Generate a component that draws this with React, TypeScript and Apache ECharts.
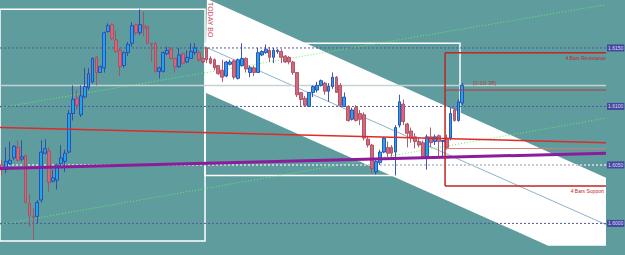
import React, { useEffect, useRef } from "react";
import * as echarts from "echarts";

// ---- candle data, oldest first ----
const opens = [
  1.6050, 1.6046, 1.6051, 1.6056, 1.6065, 1.6055, 1.6058, 1.6017, 1.6006, 1.6006,
  1.6020, 1.6060, 1.6062, 1.6036, 1.6037, 1.6051, 1.6053, 1.6061, 1.6094, 1.6107,
  1.6093, 1.6108, 1.6116, 1.6121, 1.6142, 1.6129, 1.6133, 1.6164, 1.6170, 1.6157,
  1.6148, 1.6135, 1.6146, 1.6154, 1.6170, 1.6163, 1.6169, 1.6168, 1.6154, 1.6154,
  1.6130, 1.6130, 1.6145, 1.6149, 1.6141, 1.6134, 1.6145, 1.6138, 1.6141, 1.6146,
  1.6146, 1.6141, 1.6150, 1.6141, 1.6140, 1.6135, 1.6131, 1.6126, 1.6136, 1.6139,
  1.6124, 1.6135, 1.6141, 1.6129, 1.6133, 1.6129, 1.6144, 1.6146, 1.6148, 1.6142,
  1.6147, 1.6147, 1.6143, 1.6142, 1.6138, 1.6129, 1.6112, 1.6107, 1.6100, 1.6112,
  1.6114, 1.6118, 1.6120, 1.6113, 1.6117, 1.6125, 1.6118, 1.6100, 1.6100, 1.6089,
  1.6099, 1.6094, 1.6093, 1.6072, 1.6067, 1.6044, 1.6052, 1.6061, 1.6065, 1.6065,
  1.6061, 1.6084, 1.6102, 1.6085, 1.6079, 1.6074, 1.6070, 1.6069, 1.6057, 1.6074,
  1.6070, 1.6075, 1.6070, 1.6073, 1.6073, 1.6097, 1.6088, 1.6103,
];
const closes = [
  1.6046, 1.6053, 1.6054, 1.6066, 1.6054, 1.6057, 1.6018, 1.6007, 1.6005, 1.6018,
  1.6061, 1.6064, 1.6035, 1.6039, 1.6050, 1.6056, 1.6060, 1.6094, 1.6106, 1.6101,
  1.6109, 1.6117, 1.6128, 1.6141, 1.6129, 1.6134, 1.6163, 1.6169, 1.6158, 1.6147,
  1.6134, 1.6146, 1.6153, 1.6169, 1.6163, 1.6170, 1.6167, 1.6154, 1.6153, 1.6130,
  1.6133, 1.6146, 1.6148, 1.6141, 1.6134, 1.6144, 1.6137, 1.6142, 1.6147, 1.6150,
  1.6140, 1.6138, 1.6140, 1.6137, 1.6133, 1.6128, 1.6125, 1.6138, 1.6138, 1.6125,
  1.6140, 1.6141, 1.6132, 1.6133, 1.6129, 1.6146, 1.6147, 1.6149, 1.6142, 1.6148,
  1.6148, 1.6142, 1.6138, 1.6138, 1.6129, 1.6110, 1.6106, 1.6101, 1.6112, 1.6117,
  1.6118, 1.6122, 1.6113, 1.6117, 1.6125, 1.6112, 1.6101, 1.6108, 1.6088, 1.6097,
  1.6088, 1.6089, 1.6073, 1.6067, 1.6047, 1.6053, 1.6061, 1.6073, 1.6060, 1.6060,
  1.6082, 1.6104, 1.6087, 1.6077, 1.6073, 1.6070, 1.6067, 1.6057, 1.6074, 1.6069,
  1.6074, 1.6070, 1.6071, 1.6065, 1.6094, 1.6088, 1.6104, 1.6118,
];
const lows = [
  1.6041, 1.6043, 1.6050, 1.6054, 1.6053, 1.6053, 1.6017, 1.5997, 1.5986, 1.6000,
  1.6018, 1.6059, 1.6027, 1.6035, 1.6029, 1.6048, 1.6044, 1.6060, 1.6088, 1.6097,
  1.6091, 1.6107, 1.6114, 1.6120, 1.6118, 1.6129, 1.6129, 1.6163, 1.6157, 1.6146,
  1.6126, 1.6133, 1.6143, 1.6151, 1.6161, 1.6161, 1.6160, 1.6153, 1.6138, 1.6129,
  1.6124, 1.6129, 1.6144, 1.6140, 1.6129, 1.6133, 1.6136, 1.6137, 1.6141, 1.6144,
  1.6138, 1.6137, 1.6137, 1.6136, 1.6131, 1.6127, 1.6121, 1.6125, 1.6135, 1.6123,
  1.6123, 1.6134, 1.6129, 1.6125, 1.6126, 1.6129, 1.6143, 1.6145, 1.6138, 1.6137,
  1.6145, 1.6137, 1.6137, 1.6136, 1.6127, 1.6108, 1.6100, 1.6100, 1.6100, 1.6108,
  1.6112, 1.6117, 1.6110, 1.6104, 1.6115, 1.6112, 1.6100, 1.6100, 1.6087, 1.6088,
  1.6087, 1.6084, 1.6071, 1.6065, 1.6043, 1.6042, 1.6050, 1.6060, 1.6057, 1.6057,
  1.6041, 1.6082, 1.6084, 1.6065, 1.6069, 1.6064, 1.6065, 1.6056, 1.6046, 1.6065,
  1.6067, 1.6057, 1.6057, 1.6063, 1.6071, 1.6087, 1.6087, 1.6101,
];
const highs = [
  1.6054, 1.6065, 1.6070, 1.6067, 1.6071, 1.6071, 1.6059, 1.6025, 1.6013, 1.6020,
  1.6071, 1.6072, 1.6065, 1.6046, 1.6051, 1.6067, 1.6063, 1.6097, 1.6118, 1.6114,
  1.6118, 1.6133, 1.6133, 1.6142, 1.6143, 1.6135, 1.6164, 1.6171, 1.6171, 1.6165,
  1.6150, 1.6147, 1.6155, 1.6172, 1.6171, 1.6183, 1.6181, 1.6169, 1.6154, 1.6155,
  1.6134, 1.6147, 1.6151, 1.6151, 1.6141, 1.6150, 1.6146, 1.6148, 1.6154, 1.6154,
  1.6148, 1.6142, 1.6151, 1.6143, 1.6141, 1.6135, 1.6140, 1.6139, 1.6140, 1.6140,
  1.6141, 1.6154, 1.6142, 1.6135, 1.6135, 1.6150, 1.6148, 1.6153, 1.6151, 1.6150,
  1.6149, 1.6149, 1.6144, 1.6143, 1.6139, 1.6129, 1.6112, 1.6109, 1.6112, 1.6118,
  1.6121, 1.6123, 1.6121, 1.6120, 1.6129, 1.6126, 1.6120, 1.6112, 1.6101, 1.6099,
  1.6101, 1.6097, 1.6095, 1.6074, 1.6068, 1.6054, 1.6063, 1.6074, 1.6070, 1.6067,
  1.6084, 1.6110, 1.6106, 1.6086, 1.6082, 1.6077, 1.6073, 1.6071, 1.6076, 1.6082,
  1.6076, 1.6076, 1.6071, 1.6076, 1.6099, 1.6099, 1.6106, 1.6120,
];

// ---- price scale / levels ----
const slotCount = 154; // visible bar slots on the chart
const priceMin = 1.5973;
const priceMax = 1.6191;
const levelPrices = [1.615, 1.61, 1.605, 1.6];
const levelLabels = ["1.6150", "1.6100", "1.6050", "1.6000"];
const bidPrice = 1.6118;

// ---- drawn objects, in [bar index, price] ----
const yesterdayBox = [[-0.5, 1.6183], [51.6, 1.5985]];
const todayBox = [[51.6, 1.6154], [116.4, 1.6041]];
const channelPolygon = [
  [52.1, 1.6192], [153.5, 1.6039], [153.5, 1.5981], [138.8, 1.5981], [51.6, 1.6112],
];
const channelMid = [[51.6, 1.6151], [153.5, 1.5999]];
const redTrend = [[-0.5, 1.6082], [153.5, 1.6069]];
const purpleTrend = [[-0.5, 1.6047], [153.5, 1.606]];
const greenUpper = [[-0.5, 1.6099], [153.5, 1.6187]];
const greenLower = [[-0.5, 1.5999], [153.5, 1.609]];
const barsStart = 112.6;
const barsEnd = 153.5;
const resistancePrice = 1.6146;
const supportPrice = 1.6032;
const lastClosePrice = 1.6114;
const pivotPrice = 1.6064;

export default function App() {
  const ref = useRef<HTMLDivElement>(null);
  useEffect(() => {
    document.body.style.margin = "0";
    const chart = echarts.init(ref.current as HTMLDivElement, null, { renderer: "svg" });
    const categories = Array.from({ length: slotCount }, (_, i) => String(i));
    const left = -0.5;
    const right = slotCount - 0.5;
    const seg = (pts: number[][], color: string, width: number, type: any = "solid", z = 6, extra: any = {}) => ({
      type: "line",
      xAxisIndex: 1,
      yAxisIndex: 0,
      data: pts,
      symbol: "none",
      silent: true,
      z,
      lineStyle: { color, width, type },
      ...extra,
    });
    const boxSeries = (box: number[][]) => ({
      type: "custom",
      xAxisIndex: 1,
      yAxisIndex: 0,
      data: [[0, 1.61]],
      silent: true,
      z: 2,
      renderItem: (_p: any, api: any) => {
        const a = api.coord(box[0]);
        const b = api.coord(box[1]);
        return {
          type: "rect",
          shape: { x: a[0], y: a[1], width: b[0] - a[0], height: b[1] - a[1] },
          style: { fill: "none", stroke: "#ffffff", lineWidth: 1.5 },
        };
      },
    });
    const font = (s: number) => `${s}px "Liberation Sans", Arial, sans-serif`;
    const levelSeries = levelPrices.map((p, i) =>
      seg(
        [[left, p], [right, p]],
        i === 2 ? "#c4cad6" : "#55559a",
        i === 2 ? 2 : 1,
        [2, 2],
        3,
        {
          endLabel: {
            show: true,
            formatter: levelLabels[i],
            distance: 1,
            fontSize: 5,
            fontFamily: "Liberation Sans",
            color: "#dcdcff",
            backgroundColor: "#46469c",
            padding: [1, 1, 1, 1],
          },
        }
      )
    );
    chart.setOption({
      animation: false,
      backgroundColor: "#5f9c9e",
      grid: { left: 0, right: 19, top: 0, bottom: 0 },
      xAxis: [
        { type: "category", data: categories, boundaryGap: true, show: false },
        { type: "value", min: left, max: right, show: false },
      ],
      yAxis: { type: "value", min: priceMin, max: priceMax, show: false },
      series: [
        {
          type: "custom",
          xAxisIndex: 1,
          yAxisIndex: 0,
          data: [[0, 1.61]],
          silent: true,
          z: 1,
          renderItem: (_p: any, api: any) => ({
            type: "polygon",
            shape: { points: channelPolygon.map((p) => api.coord(p)) },
            style: { fill: "#ffffff" },
          }),
        },
        boxSeries(yesterdayBox),
        boxSeries(todayBox),
        seg(channelMid, "#8fb3c8", 1, "solid", 2),
        seg(greenUpper, "#62f062", 1, [1, 2], 2),
        seg(greenLower, "#62f062", 1, [1, 2], 2),
        ...levelSeries,
        seg([[left, bidPrice], [right, bidPrice]], "#c8d2d2", 1.5, "solid", 3),
        {
          type: "candlestick",
          xAxisIndex: 0,
          yAxisIndex: 0,
          data: opens.map((o, i) => [o, closes[i], lows[i], highs[i]]),
          barWidth: 3.3,
          z: 4,
          silent: true,
          itemStyle: {
            color: "#1ea6ec",
            color0: "#d8667a",
            borderColor: "#2a46b0",
            borderColor0: "#a84e62",
            borderWidth: 0.9,
          },
        },
        seg(redTrend, "#e02a2a", 1.5),
        seg(purpleTrend, "#8c1c9c", 3),
        seg([[barsStart, pivotPrice], [barsEnd, pivotPrice]], "#d87a7a", 1),
        seg([[barsStart, lastClosePrice], [barsEnd, lastClosePrice]], "#c03434", 1),
        seg([[barsStart, resistancePrice], [barsEnd, resistancePrice]], "#c02424", 1.5),
        seg([[barsStart, supportPrice], [barsEnd, supportPrice]], "#c02424", 1.5),
        seg([[barsStart, resistancePrice], [barsStart, supportPrice]], "#c02424", 1.5),
      ],
      graphic: [
        {
          type: "text",
          x: 210,
          y: 2,
          rotation: -Math.PI / 2,
          z: 10,
          style: { text: "TODAY BO", fill: "#d04a64", font: font(7), align: "left", verticalAlign: "middle" },
        },
        {
          type: "text",
          x: 606,
          y: 55,
          z: 10,
          style: { text: "4 Bars Resistance", fill: "#c02828", font: font(5), align: "right", verticalAlign: "top" },
        },
        {
          type: "text",
          x: 604,
          y: 188,
          z: 10,
          style: { text: "4 Bars Support", fill: "#c02828", font: font(5), align: "right", verticalAlign: "top" },
        },
        {
          type: "text",
          x: 473,
          y: 83,
          z: 10,
          style: { text: "|0:10:38|", fill: "#a84a4a", font: font(6), align: "left", verticalAlign: "middle" },
        },
      ],
    });
    return () => chart.dispose();
  }, []);
  return <div ref={ref} style={{ width: 625, height: 255 }} />;
}
